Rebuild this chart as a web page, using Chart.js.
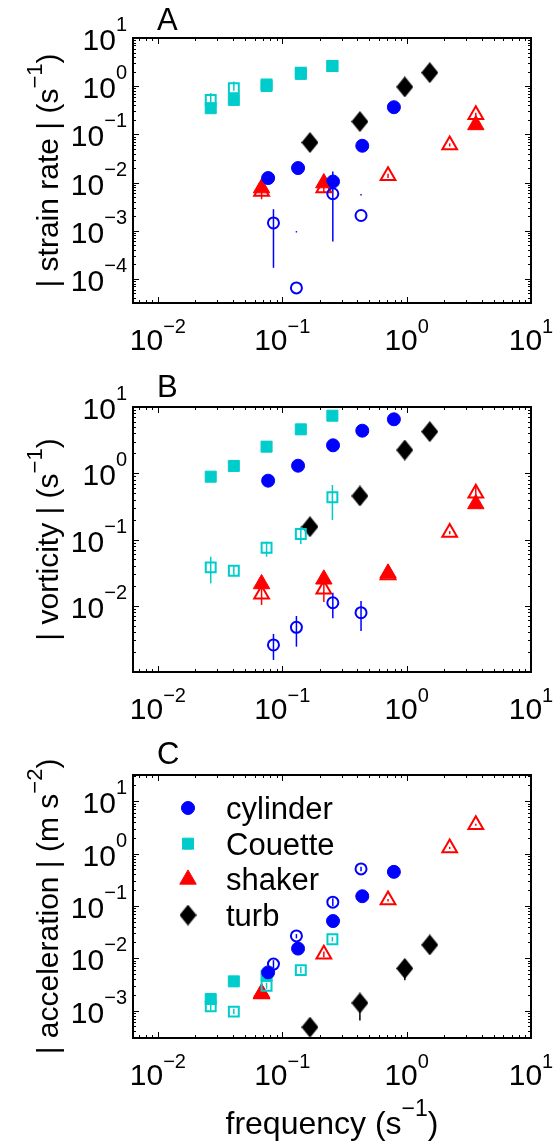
<!DOCTYPE html>
<html>
<head>
<meta charset="utf-8">
<script src="https://cdn.jsdelivr.net/npm/chart.js@4.4.0/dist/chart.umd.min.js"></script>
<style>
  html, body { margin: 0; padding: 0; background: #fff; }
  #wrap { position: relative; width: 553px; height: 1143px; overflow: hidden; }
  canvas { position: absolute; left: 0; }
</style>
</head>
<body>
<div id="wrap">
  <canvas id="cA" width="553" height="375" style="top:0px"></canvas>
  <canvas id="cB" width="553" height="365" style="top:375px"></canvas>
  <canvas id="cC" width="553" height="403" style="top:740px"></canvas>
</div>
<script>
// frequencies (s^-1)
const freqCylinder = [0.077, 0.134, 0.256, 0.44, 0.79];
const freqCylinderOpen = [0.085, 0.130, 0.255, 0.43];
const freqCouette = [0.0266, 0.0408, 0.0748, 0.141, 0.253];
const freqShaker = [0.0682, 0.216, 0.709, 2.22, 3.60];
const freqTurb = [0.167, 0.421, 0.967, 1.535];

// A: strain rate
const cylA = [0.0124, 0.020, 0.0105, 0.058, 0.366];
const couA = [0.349, 0.519, 1.01, 1.80, 2.63];
const shaA = [0.00767, 0.00975, null, null, 0.157];
const turA = [0.0676, 0.184, 0.967, 1.91];
const cylOpenA = [0.00145, 0.000065, 0.00585, 0.00207];
const cylOpenALo = [0.00017, null, 0.0006, null];
const cylOpenAHi = [0.0028, null, 0.0169, null];
const cylDotA = [null, 0.00095, null, 0.0056];
const couOpenA = [0.52, 0.906, 1.08, 1.91, 2.63];
const couOpenALo = [0.42, 0.80, 0.95, 1.70, 2.55];
const couOpenAHi = [0.72, 1.25, 1.2, 2.1, 2.72];
const shaOpenA = [0.00652, 0.00767, 0.0138, 0.0605, 0.254];
const shaOpenALo = [0.0045, 0.0062, 0.0125, 0.056, 0.23];
const shaOpenAHi = [0.0085, 0.0095, 0.0152, 0.065, 0.28];

// B: vorticity
const cylB = [0.773, 1.30, 2.64, 4.39, 6.52];
const couB = [0.887, 1.29, 2.52, 4.60, 7.39];
const shaB = [0.0213, 0.0251, 0.0309, null, 0.344];
const turB = [0.156, 0.454, 2.24, 4.24];
const cylOpenB = [0.00256, 0.00473, 0.0111, 0.00785];
const cylOpenBLo = [0.00152, 0.00241, 0.00647, 0.00416];
const cylOpenBHi = [0.00375, 0.0070, 0.0157, 0.0118];
const couOpenB = [0.038, 0.0338, 0.0752, 0.121, 0.434];
const couOpenBLo = [0.0218, 0.0281, 0.055, 0.0855, 0.197];
const couOpenBHi = [0.055, 0.0412, 0.0927, 0.157, 0.665];
const shaOpenB = [0.0149, 0.0177, 0.0291, 0.127, 0.498];
const shaOpenBLo = [0.0103, 0.0114, 0.027, 0.12, 0.394];
const shaOpenBHi = [0.0206, 0.0245, 0.031, 0.134, 0.665];

// C: acceleration
const cylC = [0.00537, 0.0153, 0.0514, 0.153, 0.447];
const couC = [0.00167, 0.00362, 0.00463, null, null];
const shaC = [0.00217, null, null, null, null];
const turC = [0.000483, 0.0014, 0.0064, 0.018];
const turCLo = [null, 0.00065, 0.0038, null];
const turCHi = [null, 0.0018, 0.0075, null];
const cylOpenC = [0.00773, 0.0267, 0.118, 0.509];
const cylOpenCLo = [0.0065, 0.024, 0.100, 0.46];
const cylOpenCHi = [0.0092, 0.029, 0.14, 0.56];
const couOpenC = [0.00121, 0.000957, 0.00299, 0.00594, 0.0231];
const couOpenCLo = [0.0010, 0.00085, 0.0026, 0.0052, 0.021];
const couOpenCHi = [0.00145, 0.00108, 0.0034, 0.0068, 0.0255];
const shaOpenC = [0.00207, 0.01197, 0.129, 1.28, 3.54];
const shaOpenCLo = [0.0018, 0.0105, 0.122, 1.22, 3.4];
const shaOpenCHi = [0.0024, 0.0135, 0.136, 1.34, 3.7];

const legendLabels = ['cylinder', 'Couette', 'shaker', 'turb'];

const BLUE = '#0000ff', CYAN = '#00cccc', RED = '#ff0000', BLACK = '#000000';
const FONT = '"Liberation Sans", Arial, Helvetica, sans-serif';
const F_MAIN = '30px ' + FONT;
const F_SUP = '20px ' + FONT;

function diamond(w, h, color) {
  const c = document.createElement('canvas');
  c.width = w; c.height = h;
  const g = c.getContext('2d');
  g.fillStyle = color;
  g.beginPath();
  g.moveTo(w / 2, 0); g.lineTo(w, h / 2); g.lineTo(w / 2, h); g.lineTo(0, h / 2);
  g.closePath(); g.fill();
  return c;
}
const DIAMOND = diamond(17, 21, BLACK);

function pts(xs, ys, lo, hi) {
  const out = [];
  xs.forEach((x, i) => {
    if (ys[i] == null) return;
    out.push({ x: x, y: ys[i], lo: lo ? lo[i] : null, hi: hi ? hi[i] : null });
  });
  return out;
}
function filled(label, color, style, r, data) {
  return { label: label, data: data, pointStyle: style, pointRadius: r, pointHoverRadius: r,
    pointBackgroundColor: color, pointBorderColor: color, pointBorderWidth: 1,
    errColor: color, legend: true };
}
function open(color, style, r, data) {
  return { data: data, pointStyle: style, pointRadius: r, pointHoverRadius: r,
    pointBackgroundColor: 'rgba(0,0,0,0)', pointBorderColor: color, pointBorderWidth: 2,
    errColor: color };
}

function logTicks(min, max) {
  const out = [];
  for (let e = Math.floor(Math.log10(min)); e <= Math.ceil(Math.log10(max)); e++) {
    for (let m = 1; m <= 9; m++) {
      const v = m * Math.pow(10, e);
      if (v >= min * 0.999 && v <= max * 1.001) out.push({ v: v, major: m === 1, e: e });
    }
  }
  return out;
}

function drawPow(ctx, e, x, y, align, rise) {
  ctx.font = F_MAIN;
  const wb = ctx.measureText('10').width;
  const es = e < 0 ? '\u2212' + (-e) : String(e);
  ctx.font = F_SUP;
  const we = ctx.measureText(es).width;
  const x0 = align === 'center' ? x - (wb + we) / 2 : x - (wb + we);
  ctx.font = F_MAIN; ctx.fillText('10', x0, y);
  ctx.font = F_SUP; ctx.fillText(es, x0 + wb, y - rise);
}

function drawRich(ctx, parts, cx, y, size) {
  const fm = size + 'px ' + FONT, fs = Math.round(size * 0.72) + 'px ' + FONT;
  let total = 0;
  parts.forEach(p => { ctx.font = p[1] ? fs : fm; total += ctx.measureText(p[0]).width; });
  let x = cx - total / 2;
  parts.forEach(p => {
    ctx.font = p[1] ? fs : fm;
    ctx.fillText(p[0], x, p[1] ? y - size * 0.55 : y);
    x += ctx.measureText(p[0]).width;
  });
}

const framePlugin = {
  id: 'frame',
  beforeDatasetsDraw(chart) {
    const ctx = chart.ctx, xs = chart.scales.x, ys = chart.scales.y;
    ctx.save();
    ctx.lineWidth = 1.5;
    chart.data.datasets.forEach(ds => {
      ds.data.forEach(d => {
        if (d.lo == null || d.hi == null) return;
        const px = xs.getPixelForValue(d.x);
        ctx.strokeStyle = ds.errColor;
        ctx.beginPath();
        ctx.moveTo(px, ys.getPixelForValue(d.lo));
        ctx.lineTo(px, ys.getPixelForValue(d.hi));
        ctx.stroke();
      });
    });
    ctx.restore();
  },
  afterDraw(chart, args, opts) {
    const ctx = chart.ctx, a = chart.chartArea, xs = chart.scales.x, ys = chart.scales.y;
    ctx.save();
    ctx.strokeStyle = '#000'; ctx.fillStyle = '#000';
    ctx.lineWidth = 1;
    ctx.beginPath();
    logTicks(xs.min, xs.max).forEach(t => {
      const p = Math.round(xs.getPixelForValue(t.v)) + 0.5;
      const L = t.major ? 6 : 3;
      ctx.moveTo(p, a.bottom); ctx.lineTo(p, a.bottom - L);
      ctx.moveTo(p, a.top); ctx.lineTo(p, a.top + L);
    });
    logTicks(ys.min, ys.max).forEach(t => {
      const p = Math.round(ys.getPixelForValue(t.v)) + 0.5;
      const L = t.major ? 6 : 3;
      ctx.moveTo(a.left, p); ctx.lineTo(a.left + L, p);
      ctx.moveTo(a.right, p); ctx.lineTo(a.right - L, p);
    });
    ctx.stroke();
    ctx.lineWidth = 2;
    ctx.strokeRect(a.left, a.top, a.right - a.left, a.bottom - a.top);

    ctx.textAlign = 'left'; ctx.textBaseline = 'alphabetic';
    logTicks(xs.min, xs.max).filter(t => t.major).forEach(t => {
      drawPow(ctx, t.e, xs.getPixelForValue(t.v), a.bottom + 47, 'center', 17);
    });
    logTicks(ys.min, ys.max).filter(t => t.major && !(opts.skipY || []).includes(t.e)).forEach(t => {
      drawPow(ctx, t.e, a.left - 6, ys.getPixelForValue(t.v) + 12, 'right', 19);
    });

    // panel letter
    ctx.font = '31px ' + FONT;
    ctx.fillText(opts.letter, 157, a.top + opts.letterDy);

    // y title
    ctx.save();
    ctx.translate(58, (a.top + a.bottom) / 2);
    ctx.rotate(-Math.PI / 2);
    drawRich(ctx, opts.yTitle, 0, 0, 30);
    ctx.restore();

    if (opts.xTitle) drawRich(ctx, opts.xTitle, (a.left + a.right) / 2, a.bottom + 96, 32);

    if (opts.legend) {
      const items = chart.data.datasets.filter(ds => ds.legend);
      items.forEach((ds, i) => {
        const y = a.top + 33 + i * 35.7;
        ctx.fillStyle = ds.pointBackgroundColor;
        ctx.strokeStyle = ds.pointBorderColor;
        ctx.lineWidth = 1;
        Chart.helpers.drawPoint(ctx, { pointStyle: ds.pointStyle, radius: ds.pointRadius, borderWidth: 1, rotation: 0 }, 188, y);
        ctx.fillStyle = '#000';
        ctx.font = '31px ' + FONT;
        ctx.fillText(ds.label, 226, y + 11);
      });
    }
    ctx.restore();
  }
};

function makeChart(id, areaTop, xAxisH, yMin, yMax, datasets, opts) {
  new Chart(document.getElementById(id), {
    type: 'scatter',
    data: { datasets: datasets },
    options: {
      responsive: false,
      animation: false,
      layout: { padding: { left: 0, right: 22, top: areaTop, bottom: 0 } },
      plugins: { legend: { display: false }, tooltip: { enabled: false }, frame: opts },
      scales: {
        x: { type: 'logarithmic', min: Math.pow(10, -2.2), max: 10,
          grid: { display: false }, border: { display: false }, ticks: { display: false },
          afterFit: s => { s.height = xAxisH; } },
        y: { type: 'logarithmic', min: yMin, max: yMax,
          grid: { display: false }, border: { display: false }, ticks: { display: false },
          afterFit: s => { s.width = 133; } }
      }
    },
    plugins: [framePlugin]
  });
}

makeChart('cA', 38, 72, Math.pow(10, -4.5), 10, [
  open(BLUE, 'circle', 5.5, pts(freqCylinderOpen, cylOpenA, cylOpenALo, cylOpenAHi)),
  { data: pts(freqCylinderOpen, cylDotA), pointStyle: 'rect', pointRadius: 1, pointBackgroundColor: BLUE, pointBorderWidth: 0 },
  open(CYAN, 'rect', 7, pts(freqCouette, couOpenA, couOpenALo, couOpenAHi)),
  open(RED, 'triangle', 8.5, pts(freqShaker, shaOpenA, shaOpenALo, shaOpenAHi)),
  filled(legendLabels[0], BLUE, 'circle', 6.5, pts(freqCylinder, cylA)),
  filled(legendLabels[1], CYAN, 'rect', 7.8, pts(freqCouette, couA)),
  filled(legendLabels[2], RED, 'triangle', 9.5, pts(freqShaker, shaA)),
  filled(legendLabels[3], BLACK, DIAMOND, 9, pts(freqTurb, turA))
], { letter: 'A', letterDy: -8, yTitle: [['| strain rate | (s', 0], ['\u22121', 1], [')', 0]] });

makeChart('cB', 32, 68, 0.001, 10, [
  open(BLUE, 'circle', 5.5, pts(freqCylinderOpen, cylOpenB, cylOpenBLo, cylOpenBHi)),
  open(CYAN, 'rect', 7, pts(freqCouette, couOpenB, couOpenBLo, couOpenBHi)),
  open(RED, 'triangle', 8.5, pts(freqShaker, shaOpenB, shaOpenBLo, shaOpenBHi)),
  filled(legendLabels[0], BLUE, 'circle', 6.5, pts(freqCylinder, cylB)),
  filled(legendLabels[1], CYAN, 'rect', 7.8, pts(freqCouette, couB)),
  filled(legendLabels[2], RED, 'triangle', 9.5, pts(freqShaker, shaB)),
  filled(legendLabels[3], BLACK, DIAMOND, 9, pts(freqTurb, turB))
], { letter: 'B', letterDy: -10, skipY: [-3], yTitle: [['| vorticity | (s', 0], ['\u22121', 1], [')', 0]] });

makeChart('cC', 35, 105, Math.pow(10, -3.5), Math.pow(10, 1.5), [
  open(BLUE, 'circle', 5.5, pts(freqCylinderOpen, cylOpenC, cylOpenCLo, cylOpenCHi)),
  open(CYAN, 'rect', 7, pts(freqCouette, couOpenC, couOpenCLo, couOpenCHi)),
  open(RED, 'triangle', 8.5, pts(freqShaker, shaOpenC, shaOpenCLo, shaOpenCHi)),
  filled(legendLabels[0], BLUE, 'circle', 6.5, pts(freqCylinder, cylC)),
  filled(legendLabels[1], CYAN, 'rect', 7.8, pts(freqCouette, couC)),
  filled(legendLabels[2], RED, 'triangle', 9.5, pts(freqShaker, shaC)),
  filled(legendLabels[3], BLACK, DIAMOND, 9, pts(freqTurb, turC, turCLo, turCHi))
], { letter: 'C', letterDy: -11, legend: true,
     yTitle: [['| acceleration | (m s', 0], ['\u22122', 1], [')', 0]],
     xTitle: [['frequency (s', 0], ['\u22121', 1], [')', 0]] });
</script>
</body>
</html>
